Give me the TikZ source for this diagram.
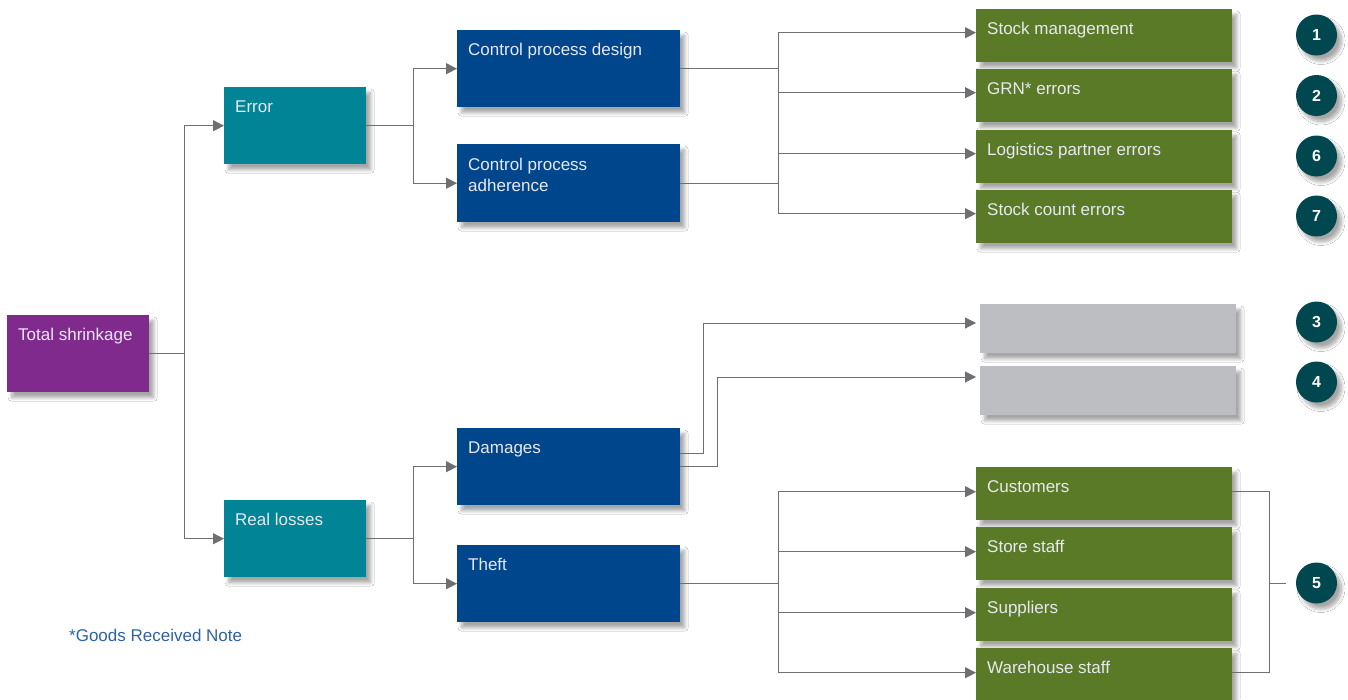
\documentclass[tikz,border=0pt]{standalone}
\usepackage{fontspec}
\setmainfont{Liberation Sans}
\usetikzlibrary{arrows.meta,calc,shadows.blur}
\definecolor{cpurple}{HTML}{7F2A8C}
\definecolor{cteal}{HTML}{008496}
\definecolor{cblue}{HTML}{00468C}
\definecolor{cgreen}{HTML}{5A7A28}
\definecolor{cgray}{HTML}{BDBEC1}
\definecolor{ccirc}{HTML}{00474F}
\definecolor{cline}{HTML}{6E6F73}
\definecolor{cfoot}{HTML}{2E62A6}
\definecolor{ctext}{HTML}{E8E8F0}
\begin{document}
\begin{tikzpicture}[x=1pt,y=-1pt,
  shad/.style={blur shadow={shadow xshift=4.5pt,shadow yshift=-5.5pt,shadow blur steps=8,shadow blur radius=3.5pt,shadow opacity=35}},
  box/.style={rectangle,inner sep=0pt,anchor=north west,shad},
  small/.style={box,minimum width=142pt,minimum height=77pt},
  mid/.style={box,minimum width=223pt,minimum height=77pt},
  leaf/.style={box,fill=cgreen,minimum width=256pt,minimum height=53pt},
  grey/.style={box,fill=cgray,minimum width=256pt,minimum height=49pt},
  txt/.style={anchor=base west,inner sep=0pt,text=ctext,align=left,font=\fontsize{17}{21}\selectfont},
  circ/.style={circle,fill=ccirc,minimum size=41pt,inner sep=0pt,text=white,font=\bfseries\fontsize{16}{16}\selectfont,shad},
  conn/.style={draw=cline,line width=1pt},
  arr/.style={conn,-{Triangle[length=11pt,width=11pt]}}
]
\fill[white] (0,0) rectangle (1348,699);
\useasboundingbox (0,0) rectangle (1348,699);

% boxes
\node[small,fill=cpurple] (ts) at (7,315) {};
\node[small,fill=cteal] (err) at (224,87) {};
\node[small,fill=cteal] (rl) at (224,500) {};
\node[mid,fill=cblue] (cpd) at (457,30) {};
\node[mid,fill=cblue,minimum height=78pt] (cpa) at (457,144) {};
\node[mid,fill=cblue] (dam) at (457,428) {};
\node[mid,fill=cblue] (th) at (457,545) {};
\node[leaf] (sm) at (976,9) {};
\node[leaf] (grn) at (976,69) {};
\node[leaf] (lp) at (976,130) {};
\node[leaf] (sc) at (976,190) {};
\node[grey] (g1) at (980,304) {};
\node[grey] (g2) at (980,366) {};
\node[leaf] (cu) at (976,467) {};
\node[leaf] (ss) at (976,527) {};
\node[leaf] (su) at (976,588) {};
\node[leaf] (ws) at (976,648) {};

% texts
\node[txt] (tsT) at ($(ts.north west)+(11,25)$) {Total shrinkage};
\node[txt] (errT) at ($(err.north west)+(11,25)$) {Error};
\node[txt] (rlT) at ($(rl.north west)+(11,25)$) {Real losses};
\node[txt] (cpdT) at ($(cpd.north west)+(11,25)$) {Control process design};
\node[txt] (cpaT) at ($(cpa.north west)+(11,47)$) {Control process\\adherence};
\node[txt] (damT) at ($(dam.north west)+(11,25)$) {Damages};
\node[txt] (thT) at ($(th.north west)+(11,25)$) {Theft};
\node[txt] (smT) at ($(sm.north west)+(11,25)$) {Stock management};
\node[txt] (grnT) at ($(grn.north west)+(11,25)$) {GRN* errors};
\node[txt] (lpT) at ($(lp.north west)+(11,25)$) {Logistics partner errors};
\node[txt] (scT) at ($(sc.north west)+(11,25)$) {Stock count errors};
\node[txt] (cuT) at ($(cu.north west)+(11,25)$) {Customers};
\node[txt] (ssT) at ($(ss.north west)+(11,25)$) {Store staff};
\node[txt] (suT) at ($(su.north west)+(11,25)$) {Suppliers};
\node[txt] (wsT) at ($(ws.north west)+(11,25)$) {Warehouse staff};
\node[txt,text=cfoot,font=\fontsize{17}{20}\selectfont] (fn) at (69,641) {*Goods Received Note};

% circles
\node[circ] (c1) at (1316.5,35) {1};
\node[circ] (c2) at (1316.5,95.5) {2};
\node[circ] (c6) at (1316.5,156) {6};
\node[circ] (c7) at (1316.5,216) {7};
\node[circ] (c3) at (1316.5,322) {3};
\node[circ] (c4) at (1316.5,382) {4};
\node[circ] (c5) at (1316.5,583) {5};

% connectors level 1
\coordinate (b0) at (184,0);
\draw[conn] (ts.east) -- (ts.east -| b0);
\draw[conn] (b0 |- err.west) -- (b0 |- rl.west);
\draw[arr] (b0 |- err.west) -- (err.west);
\draw[arr] (b0 |- rl.west) -- (rl.west);

% level 2
\coordinate (b1) at (413,0);
\draw[conn] (err.east) -- (err.east -| b1);
\draw[conn] (b1 |- cpd.west) -- (b1 |- cpa.west);
\draw[arr] (b1 |- cpd.west) -- (cpd.west);
\draw[arr] (b1 |- cpa.west) -- (cpa.west);
\draw[conn] (rl.east) -- (rl.east -| b1);
\draw[conn] (b1 |- dam.west) -- (b1 |- th.west);
\draw[arr] (b1 |- dam.west) -- (dam.west);
\draw[arr] (b1 |- th.west) -- (th.west);

% level 3 errors
\coordinate (b2) at (778,0);
\draw[conn] (cpd.east) -- (cpd.east -| b2);
\draw[conn] (cpa.east) -- (cpa.east -| b2);
\draw[conn] ($(b2 |- sm.west)+(0,-3)$) -- ($(b2 |- sc.west)+(0,-3)$);
\foreach \n in {sm,grn,lp,sc}
  \draw[arr] ($(b2 |- \n.west)+(0,-3)$) -- ($(\n.west)+(0,-3)$);

% damages
\coordinate (g1in) at (976,323);
\coordinate (g2in) at (976,377);
\draw[arr] ($(dam.east)+(0,-13)$) -- ++(23,0) |- (g1in);
\draw[arr] (dam.east) -- ++(37,0) |- (g2in);

% theft
\draw[conn] (th.east) -- (th.east -| b2);
\draw[conn] ($(b2 |- cu.west)+(0,-2)$) -- ($(b2 |- ws.west)+(0,-2)$);
\foreach \n in {cu,ss,su,ws}
  \draw[arr] ($(b2 |- \n.west)+(0,-2)$) -- ($(\n.west)+(0,-2)$);

% bracket to 5
\coordinate (b3) at (1269,0);
\draw[conn] ($(cu.east)+(0,-2)$) -- ($(cu.east -| b3)+(0,-2)$) -- ($(ws.east -| b3)+(0,-2)$) -- ($(ws.east)+(0,-2)$);
\draw[conn] (b3 |- c5.west) -- ($(c5.west)+(-10,0)$);
\end{tikzpicture}
\end{document}
